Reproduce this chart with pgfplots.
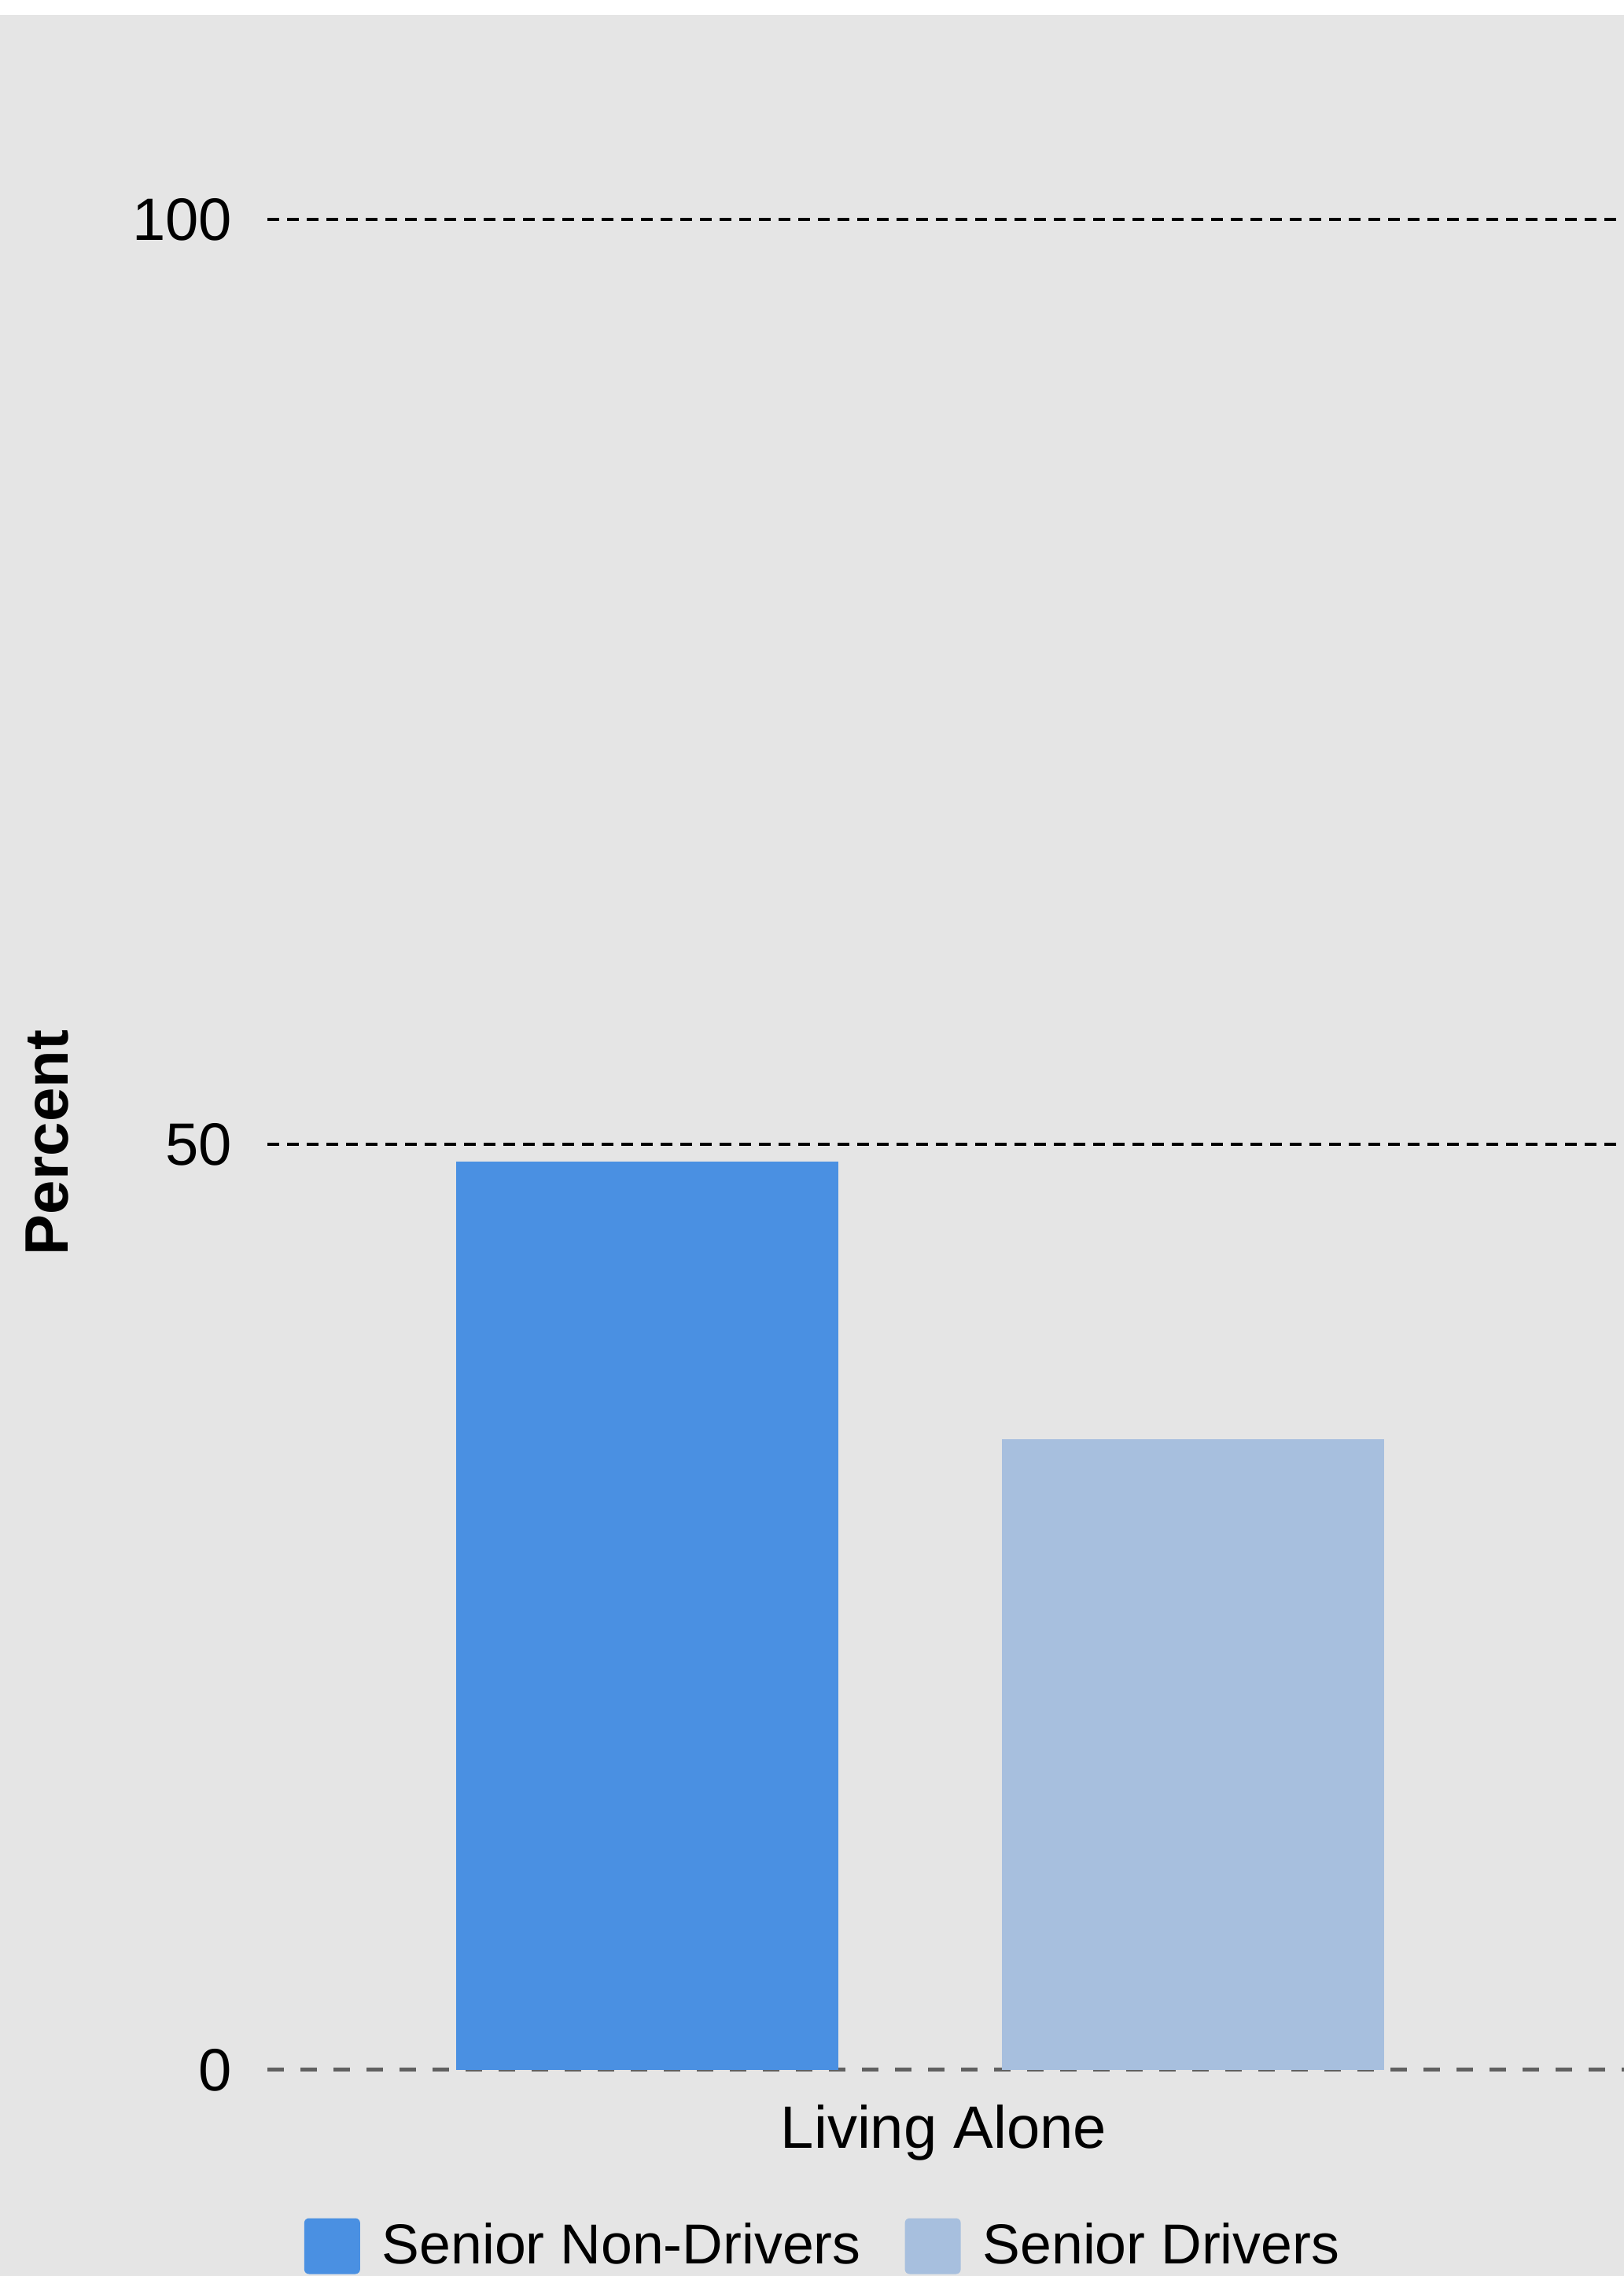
\documentclass[border=0pt]{standalone}
\usepackage{pgfplots}
\pgfplotsset{compat=1.18}
\usepackage{fontspec}
\setmainfont{Liberation Sans}
\definecolor{bgrey}{RGB}{229,229,229}
\definecolor{nondriver}{RGB}{74,144,226}
\definecolor{driver}{RGB}{167,191,222}
\definecolor{zeroline}{RGB}{96,96,96}
\begin{document}
\begin{tikzpicture}
\useasboundingbox (0,0) rectangle (516.25pt,723.5pt);
\fill[white] (0,0) rectangle (516.25pt,723.5pt);
\fill[bgrey] (0,0) rectangle (516.25pt,718.75pt);
\begin{axis}[
    at={(85pt,65.5pt)}, anchor=south west,
    scale only axis, width=431.25pt, height=588.25pt,
    xmin=-830, xmax=895, ymin=0, ymax=100,
    axis line style={draw=none},
    major tick length=0pt,
    ytick={50,100},
    extra y ticks={0},
    extra y tick style={grid style={zeroline, line width=1.25pt, dash pattern=on 5.25pt off 5.25pt}},
    ymajorgrids,
    grid style={black, line width=1pt, dash pattern=on 3.75pt off 2.5pt},
    yticklabel style={anchor=east, inner sep=0pt, xshift=-11pt, font=\fontsize{19}{22}\selectfont},
    /pgf/number format/assume math mode=true,
    xtick={30}, xticklabels={Living Alone},
    xticklabel style={anchor=base, inner sep=0pt, yshift=-25pt, font=\fontsize{19}{22}\selectfont},
    legend columns=2,
    legend style={draw=none, fill=none, at={(axis description cs:0.0267,-0.0952)}, anchor=west,
        inner sep=0pt, font=\fontsize{17.9}{20}\selectfont,
        nodes={inner sep=0pt},
        /tikz/every odd column/.append style={column sep=7pt},
        /tikz/every even column/.append style={column sep=14pt}},
    legend image code/.code={\fill[#1, rounded corners=1.5pt] (0pt,-8.875pt) rectangle (17.75pt,8.875pt);},
]
\addplot[ybar, bar shift=0pt, bar width=486, fill=nondriver, draw=none] coordinates {(-346.75,49.1)};
\addplot[ybar, bar shift=0pt, bar width=486, fill=driver, draw=none] coordinates {(346.75,34.1)};
\legend{Senior Non-Drivers, Senior Drivers}
\end{axis}
\node[rotate=90, inner sep=0pt, font=\bfseries\fontsize{19.5}{22}\selectfont] at (15pt,360.25pt) {Percent};
\end{tikzpicture}
\end{document}
